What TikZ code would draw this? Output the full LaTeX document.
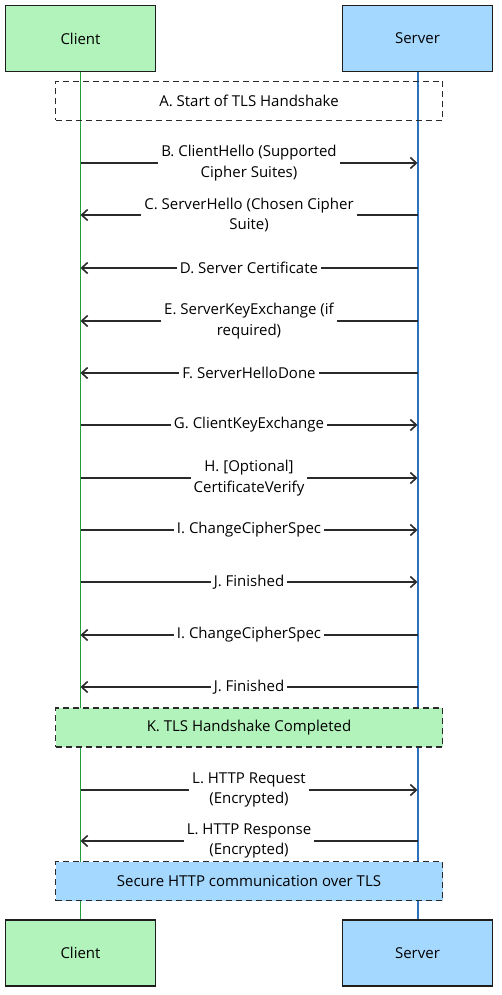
\documentclass[tikz,border=0pt]{standalone}
\usepackage{fontspec}
\setmainfont{Open Sans}
\usetikzlibrary{arrows.meta}
\definecolor{linec}{HTML}{2A2A2A}
\definecolor{boxc}{HTML}{1E1E1E}
\definecolor{cfill}{HTML}{B2F2BB}
\definecolor{sfill}{HTML}{A5D8FF}
\definecolor{cline}{HTML}{1E9E3C}
\definecolor{sline}{HTML}{2B72C2}
\begin{document}
\begin{tikzpicture}[x=1pt,y=-1pt,
  actor/.style={draw=boxc, line width=1.8pt, minimum width=150pt, minimum height=66pt, inner sep=0pt, font=\fontsize{15}{17}\selectfont},
  msg/.style={draw=linec, line width=2.1pt, -{Straight Barb[length=6pt,width=11pt,line width=1.6pt]}},
  lbl/.style={fill=white, align=center, inner sep=3pt, font=\fontsize{15}{20.5}\selectfont, text=black},
  notebox/.style={draw=linec, dashed, dash pattern=on 6pt off 4pt, line width=1.6pt, minimum width=387pt, minimum height=39pt, inner sep=0pt, font=\fontsize{15}{17}\selectfont}]
\useasboundingbox (0,0) rectangle (502,995);
% actors
\node[actor, fill=cfill] (ct) at (80.5,38.5) {Client};
\node[actor, fill=sfill] (st) at (417.5,38.5) {Server};
\node[actor, fill=cfill] (cb) at (80.5,953) {Client};
\node[actor, fill=sfill] (sb) at (417.5,953) {Server};
% lifelines
\draw[cline, line width=1.6pt] (ct.south) -- (cb.north);
\draw[sline, line width=2.0pt] (st.south) -- (sb.north);
% notes
\node[notebox] (na) at (249,101) {A. Start of TLS Handshake};
\node[notebox, fill=cfill] (nk) at (249,727.5) {K. TLS Handshake Completed};
\node[notebox, fill=sfill] (ns) at (249,881) {Secure HTTP communication over TLS};
% coordinates on lifelines
\foreach \n/\y in {B/163,C/215,D/268,E/321,F/373,G/425,H/478,I/530,J/582,I2/635,J2/687,L/790,L2/841}{
  \coordinate (c\n) at (80.5,\y);
  \coordinate (s\n) at (417.5,\y);
}
\draw[msg] (cB) -- node[lbl] {B. ClientHello (Supported\\Cipher Suites)} (sB);
\draw[msg] (sC) -- node[lbl] {C. ServerHello (Chosen Cipher\\Suite)} (cC);
\draw[msg] (sD) -- node[lbl] {D. Server Certificate} (cD);
\draw[msg] (sE) -- node[lbl] {E. ServerKeyExchange (if\\required)} (cE);
\draw[msg] (sF) -- node[lbl] {F. ServerHelloDone} (cF);
\draw[msg] (cG) -- node[lbl] {G. ClientKeyExchange} (sG);
\draw[msg] (cH) -- node[lbl] {H. [Optional]\\CertificateVerify} (sH);
\draw[msg] (cI) -- node[lbl] {I. ChangeCipherSpec} (sI);
\draw[msg] (cJ) -- node[lbl] {J. Finished} (sJ);
\draw[msg] (sI2) -- node[lbl] {I. ChangeCipherSpec} (cI2);
\draw[msg] (sJ2) -- node[lbl] {J. Finished} (cJ2);
\draw[msg] (cL) -- node[lbl] {L. HTTP Request\\(Encrypted)} (sL);
\draw[msg] (sL2) -- node[lbl] {L. HTTP Response\\(Encrypted)} (cL2);
\end{tikzpicture}
\end{document}
